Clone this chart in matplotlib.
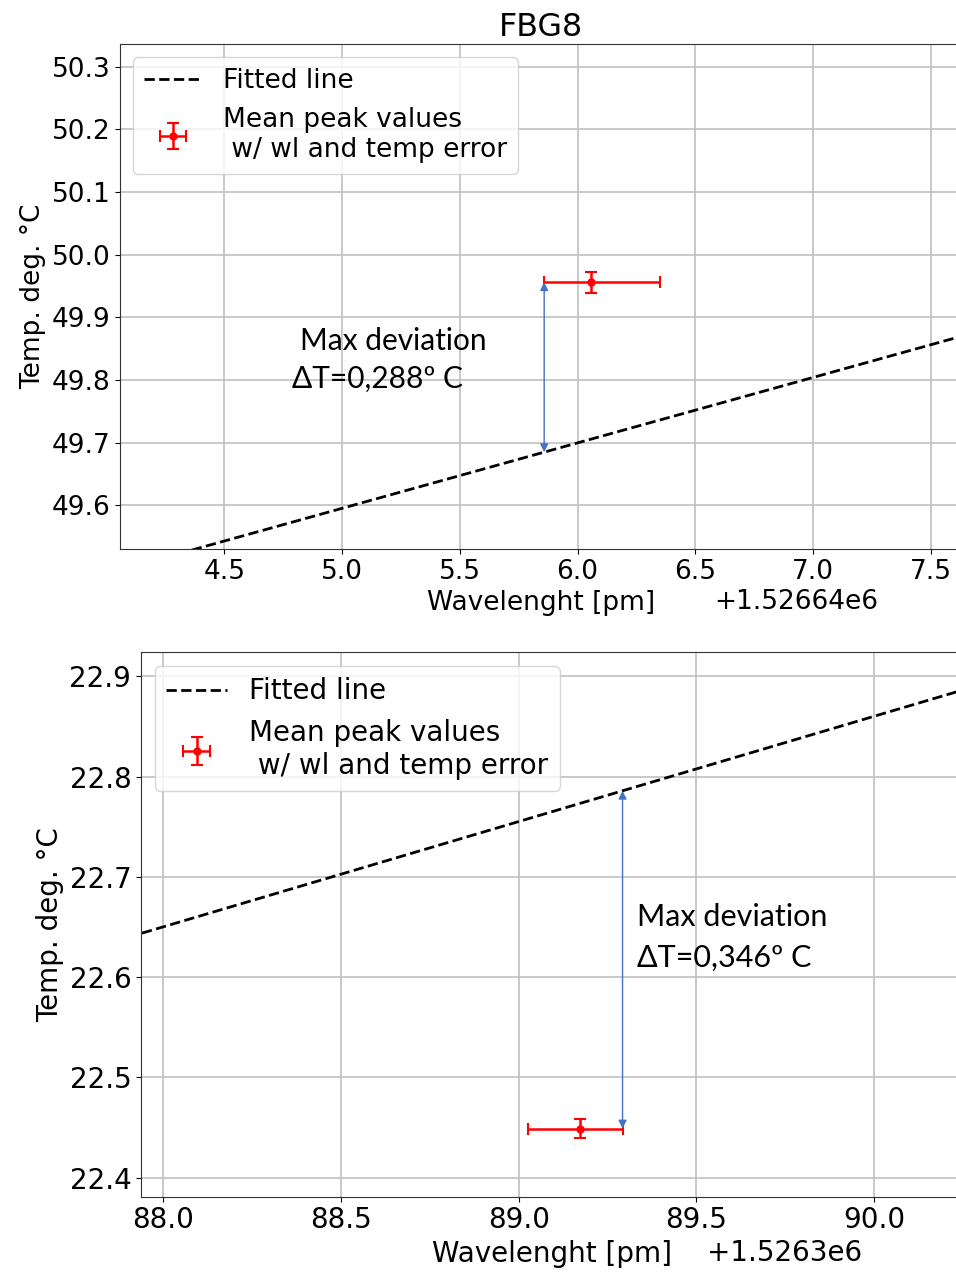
import numpy as np
import matplotlib
matplotlib.use("Agg")
import matplotlib.pyplot as plt

plt.rcParams["font.family"] = ["DejaVu Sans"]
plt.rcParams["font.size"] = 19

# FBG8 at ~50 degC
wl_fit_top = [1526644.0, 1526648.0]
temp_fit_top = [49.4905, 49.9085]
wl_peak_top = [1526646.058]
temp_peak_top = [49.956]
wl_err_top = [[0.20], [0.29]]
temp_err_top = [0.0165]
dev_label_top = ["Max deviation", "\u0394T=0,288\u00ba C"]

# FBG8 at ~22.5 degC
wl_fit_bot = [1526387.9, 1526390.4]
temp_fit_bot = [22.6397, 22.9022]
wl_peak_bot = [1526389.173]
temp_peak_bot = [22.449]
wl_err_bot = [[0.147], [0.119]]
temp_err_bot = [0.0097]
dev_label_bot = ["Max deviation", "\u0394T=0,346\u00ba C"]

W, H = 956, 1276
fig = plt.figure(figsize=(W / 100, H / 100), dpi=100)

def px_axes(l, t, r, b):
    return fig.add_axes([l / W, 1 - b / H, (r - l) / W, (b - t) / H])

ax1 = px_axes(120, 44.3, 962, 549)
ax2 = px_axes(141, 652.3, 963, 1196.7)

arrow_color = "#4472C4"
ann_font = ["Lato", "DejaVu Sans"]

def draw_panel(ax, wl_fit, temp_fit, wl, temp, xerr, yerr, arrow_x, xlim, ylim,
               labels, lab_pos, offset_x, ann_size, fs):
    ax.plot(wl_fit, temp_fit, "--", color="black", lw=2, label="Fitted line")
    ax.errorbar(wl, temp, xerr=xerr, yerr=yerr, fmt="o", color="red",
                ms=5, capsize=4, elinewidth=1.8, capthick=1.5,
                label="Mean peak values\n w/ wl and temp error")
    y_line = np.interp(arrow_x, wl_fit, temp_fit)
    ax.annotate("", xy=(arrow_x, temp[0]), xytext=(arrow_x, y_line),
                arrowprops=dict(arrowstyle="<|-|>", color=arrow_color, lw=1,
                                mutation_scale=12, shrinkA=0, shrinkB=0))
    ax.set_xlim(*xlim)
    ax.set_ylim(*ylim)
    ax.grid(True, color="#c0c0c0", lw=1.2)
    ax.set_axisbelow(True)
    ax.tick_params(labelsize=fs)
    ax.set_xlabel("Wavelenght [pm]", fontsize=fs)
    ax.set_ylabel("Temp. deg. \u00b0C", fontsize=fs)
    ax.legend(loc="upper left", fontsize=fs, handlelength=2.2)
    for txt, (x, y) in zip(labels, lab_pos):
        ax.text(x, y, txt, transform=ax.transAxes, ha="left", va="center",
                fontsize=ann_size, family=ann_font)
    off = ax.xaxis.get_offset_text()
    off.set_x(offset_x)
    off.set_fontsize(fs)
    for sp in ax.spines.values():
        sp.set_color("#333333")

draw_panel(ax1, wl_fit_top, temp_fit_top, wl_peak_top, temp_peak_top,
           wl_err_top, temp_err_top,
           wl_peak_top[0] - wl_err_top[0][0],
           (1526644.057, 1526647.632), (49.530, 50.336),
           dev_label_top, [(0.214, 0.412), (0.204, 0.337)], 0.90, 21.5, 19)
ax1.set_title("FBG8", fontsize=22.8)

draw_panel(ax2, wl_fit_bot, temp_fit_bot, wl_peak_bot, temp_peak_bot,
           wl_err_bot, temp_err_bot,
           wl_peak_bot[0] + wl_err_bot[1][0],
           (1526387.937, 1526390.25), (22.381, 22.924),
           dev_label_bot, [(0.603, 0.514), (0.603, 0.438)], 0.877, 22, 20)

fig.savefig("out.png", dpi=100)
